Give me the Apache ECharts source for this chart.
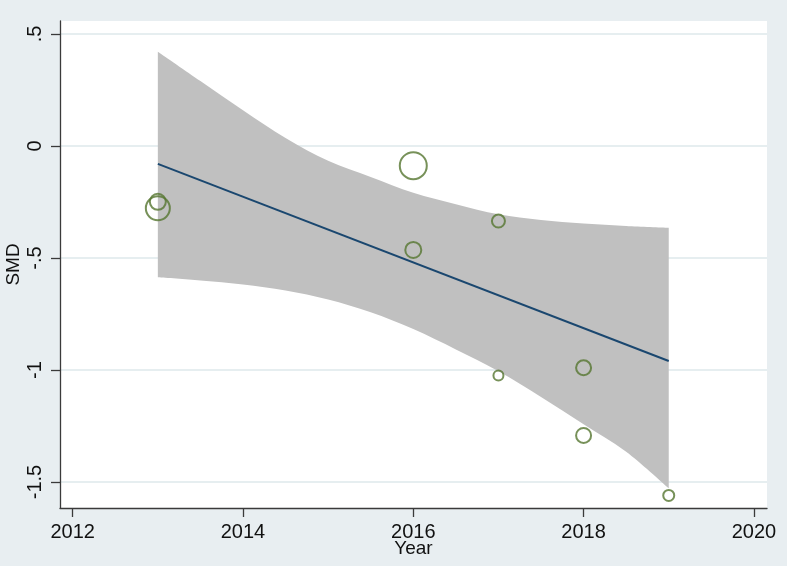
<!DOCTYPE html>
<html>
<head>
<meta charset="utf-8">
<script src="https://cdn.jsdelivr.net/npm/echarts@6/dist/echarts.min.js"></script>
<style>
html,body{margin:0;padding:0;background:#e8eef1;}
#chart{width:787px;height:566px;}
</style>
</head>
<body>
<div id="chart"></div>
<script>
// Studies (year, SMD, marker diameter)
const studyYear = [2013, 2013, 2016, 2016, 2017, 2017, 2018, 2018, 2019];
const studySMD  = [-0.278, -0.249, -0.088, -0.464, -0.335, -1.025, -0.990, -1.292, -1.560];
const studySize = [24, 16, 27, 16, 13, 10, 15, 15, 11];

// Fitted line endpoints
const fitYear = [2013, 2019];
const fitSMD  = [-0.080, -0.960];

// Confidence band
const bandYear  = [2013, 2013.5, 2014, 2014.5, 2015, 2015.5, 2016, 2016.5, 2017, 2017.5, 2018, 2018.5, 2019];
const bandUpper = [0.421, 0.29, 0.16, 0.036, -0.066, -0.138, -0.209, -0.260, -0.305, -0.330, -0.346, -0.357, -0.365];
const bandLower = [-0.586, -0.60, -0.618, -0.645, -0.685, -0.742, -0.817, -0.908, -1.005, -1.12, -1.242, -1.365, -1.528];

// Tick labels
const xTicks = [2012, 2014, 2016, 2018, 2020];
const yTicks = [-1.5, -1, -0.5, 0, 0.5];
const yTickText = {'-1.5':'-1.5','-1':'-1','-0.5':'-.5','0':'0','0.5':'.5'};

const FONT = "'Liberation Sans', Arial, sans-serif";
const chart = echarts.init(document.getElementById('chart'), null, {renderer:'canvas'});

const bandData = bandYear.map((y, i) => [y, bandUpper[i], bandLower[i]]);

// smooth path through screen points (Catmull-Rom -> cubic Bezier)
function smoothSeg(pts) {
  let d = '';
  for (let i = 0; i < pts.length - 1; i++) {
    const p0 = pts[Math.max(i - 1, 0)], p1 = pts[i], p2 = pts[i + 1], p3 = pts[Math.min(i + 2, pts.length - 1)];
    const c1 = [p1[0] + (p2[0] - p0[0]) / 6, p1[1] + (p2[1] - p0[1]) / 6];
    const c2 = [p2[0] - (p3[0] - p1[0]) / 6, p2[1] - (p3[1] - p1[1]) / 6];
    d += ' C' + c1[0] + ',' + c1[1] + ' ' + c2[0] + ',' + c2[1] + ' ' + p2[0] + ',' + p2[1];
  }
  return d;
}

chart.setOption({
  backgroundColor: '#e8eef1',
  animation: false,
  grid: {left: 60, right: 20, top: 21, bottom: 58, show: true, backgroundColor: '#ffffff', borderWidth: 0,
         containLabel: false, outerBoundsMode: 'none'},
  xAxis: {
    type: 'value', min: 2011.851, max: 2020.154,
    name: 'Year', nameLocation: 'middle', nameGap: 31, nameMoveOverlap: false,
    nameTextStyle: {fontFamily: FONT, fontSize: 19, color: '#111'},
    axisLine: {show: true, onZero: false, lineStyle: {color: '#3a3a3a', width: 1.3}},
    axisTick: {show: true, length: 9, customValues: xTicks, lineStyle: {color: '#3a3a3a', width: 1.3}},
    axisLabel: {customValues: xTicks, fontFamily: FONT, fontSize: 20, color: '#111', margin: 14,
      formatter: v => String(v)},
    splitLine: {show: false}
  },
  yAxis: {
    type: 'value', min: -1.616, max: 0.558,
    name: 'SMD', nameLocation: 'middle', nameGap: 37, nameRotate: 90, nameMoveOverlap: false,
    nameTextStyle: {fontFamily: FONT, fontSize: 19, color: '#111'},
    axisLine: {show: true, onZero: false, lineStyle: {color: '#3a3a3a', width: 1.3}},
    axisTick: {show: true, length: 9, customValues: yTicks, lineStyle: {color: '#3a3a3a', width: 1.3}},
    axisLabel: {customValues: yTicks, rotate: 90, fontFamily: FONT, fontSize: 20, color: '#111', margin: 15,
      formatter: v => yTickText[String(v)] !== undefined ? yTickText[String(v)] : String(v)},
    splitLine: {show: true, lineStyle: {color: '#e6eef0', width: 2}}
  },
  series: [
    {
      type: 'custom',
      data: bandData,
      z: 1,
      silent: true,
      renderItem: function (params, api) {
        if (params.dataIndex !== 0) return null;
        const up = bandData.map(r => api.coord([r[0], r[1]]));
        const lo = bandData.map(r => api.coord([r[0], r[2]])).reverse();
        let d = 'M' + up[0][0] + ',' + up[0][1] + smoothSeg(up);
        d += ' L' + lo[0][0] + ',' + lo[0][1] + smoothSeg(lo) + ' Z';
        return {type: 'path', shape: {pathData: d}, style: {fill: '#c0c0c0'}};
      }
    },
    {
      type: 'line',
      data: fitYear.map((y, i) => [y, fitSMD[i]]),
      z: 2,
      showSymbol: false,
      symbol: 'none',
      lineStyle: {color: '#1a476f', width: 2}
    },
    {
      type: 'scatter',
      data: studyYear.map((y, i) => [y, studySMD[i], studySize[i]]),
      z: 3,
      symbol: 'circle',
      symbolSize: d => d[2],
      itemStyle: {color: 'rgba(0,0,0,0)', borderColor: '#55752f', borderWidth: 2}
    }
  ]
});
</script>
</body>
</html>
